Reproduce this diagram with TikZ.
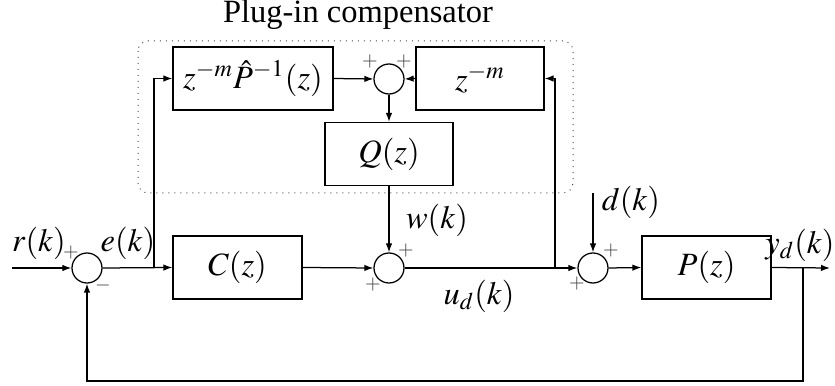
\documentclass[tikz,border=0pt]{standalone}
\usepackage{mathptmx}
\usepackage[no-math]{fontspec}
\setmainfont{Liberation Serif}
\usetikzlibrary{arrows.meta}
\begin{document}
\begin{tikzpicture}[x=0.4pt,y=-0.4pt,
  every node/.style={font=\fontsize{13}{15}\selectfont},
  blk/.style={draw,line width=0.5pt,minimum height=25.2pt,inner sep=0pt},
  sumnode/.style={draw,circle,line width=0.5pt,minimum size=12pt,inner sep=0pt},
  sgn/.style={font=\fontsize{8}{9}\selectfont,inner sep=0pt,text=black!75},
  conn/.style={line width=0.5pt,-{Latex[length=3.6pt,width=2.6pt]}},
  wire/.style={line width=0.5pt}]
\useasboundingbox (0,0) rectangle (835,386);
% dotted compensator frame
\draw[dotted,black!70,line width=0.4pt,rounded corners=4pt] (138,41) rectangle (573,193);
\node (title) at (358,15) {Plug-in compensator};
% blocks
\node[blk,minimum width=64pt] (zmP) at (253,78.5) {$z^{-m}\hat{P}^{-1}(z)$};
\node[blk,minimum width=51.2pt] (zm) at (480,78.5) {$z^{-m}$};
\node[blk,minimum width=51.2pt] (Q) at (389,154) {$Q(z)$};
\node[blk,minimum width=51.6pt] (C) at (237.5,267.5) {$C(z)$};
\node[blk,minimum width=51.6pt] (P) at (706.5,267.5) {$P(z)$};
% summing junctions
\node[sumnode] (s1) at (87,268) {};
\node[sumnode] (s2) at (389,268) {};
\node[sumnode] (s3) at (593,268) {};
\node[sumnode] (sT) at (389,79) {};
% coordinates
\coordinate (in) at (12,268);
\coordinate (eb) at (154,268);
\coordinate (ub) at (555,268);
\coordinate (dk) at (593,193);
\coordinate (out) at (830,268);
\coordinate (yb) at (803,268);
\coordinate (fb) at (803,381);
% connectors
\draw[conn] (in) -- (s1.west);
\draw[conn] (s1.east) -- (C.west);
\draw[conn] (eb) |- (zmP.west);
\draw[conn] (zmP.east) -- (sT.west);
\draw[conn] (zm.west) -- (sT.east);
\draw[conn] (sT.south) -- (Q.north);
\draw[conn] (Q.south) -- (s2.north);
\draw[conn] (C.east) -- (s2.west);
\draw[conn] (s2.east) -- (s3.west);
\draw[conn] (ub) |- (zm.east);
\draw[conn] (dk) -- (s3.north);
\draw[conn] (s3.east) -- (P.west);
\draw[conn] (P.east) -- (out);
\draw[conn] (yb) -- (fb) -| (s1.south);
% labels
\node (rk) at (39,243) {$r(k)$};
\node (ek) at (128,243) {$e(k)$};
\node (wk) at (437,220) {$w(k)$};
\node (dlab) at (631,202) {$d(k)$};
\node (ud) at (479,296) {$u_d(k)$};
\node (yd) at (800,245) {$y_d(k)$};
% signs
\node[sgn] (p1) at (71,253) {$+$};
\node[sgn] (m1) at (103,286) {$-$};
\node[sgn] (p2a) at (406,251) {$+$};
\node[sgn] (p2b) at (373,285) {$+$};
\node[sgn] (p3a) at (611,251) {$+$};
\node[sgn] (p3b) at (577,284) {$+$};
\node[sgn] (pTa) at (370,62) {$+$};
\node[sgn] (pTb) at (404,62) {$+$};
\end{tikzpicture}
\end{document}
